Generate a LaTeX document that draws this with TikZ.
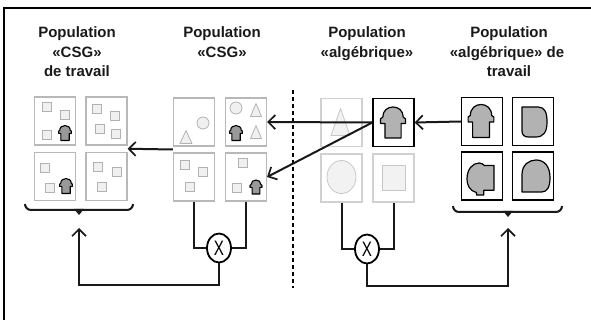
\documentclass[tikz,border=0pt]{standalone}
\usepackage{fontspec}
\usepackage{graphicx}
\setmainfont{Liberation Sans}
\usetikzlibrary{arrows.meta,shapes.geometric,calc}
\newcommand\ShSq[5]{\begin{scope}[shift={(#1,#2)},xscale=#3,yscale=#4]\draw[#5] (-0.5,-0.5) rectangle (0.5,0.5);\end{scope}}
\newcommand\ShTri[5]{\begin{scope}[shift={(#1,#2)},xscale=#3,yscale=#4]\draw[#5,line join=round] (-0.5,0.5) -- (0,-0.5) -- (0.5,0.5) -- cycle;\end{scope}}
\newcommand\ShEll[5]{\begin{scope}[shift={(#1,#2)},xscale=#3,yscale=#4]\draw[#5] (0,0) ellipse[x radius=0.5,y radius=0.5];\end{scope}}
\newcommand\ShShirt[5]{\begin{scope}[shift={(#1,#2)},xscale=#3,yscale=#4]\draw[#5,line join=round] (-0.3,0.5) -- (-0.3,0.03) -- (-0.46,0.03) -- (-0.46,-0.12) -- (-0.38,-0.17) .. controls (-0.38,-0.61) and (0.38,-0.61) .. (0.38,-0.17) -- (0.46,-0.12) -- (0.46,0.03) -- (0.3,0.03) -- (0.3,0.5) -- cycle;\end{scope}}
\newcommand\ShD[5]{\begin{scope}[shift={(#1,#2)},xscale=#3,yscale=#4]\draw[#5,line join=round] (-0.5,-0.5) -- (0.15,-0.5) .. controls (0.42,-0.5) and (0.5,-0.3) .. (0.5,0) .. controls (0.5,0.35) and (0.35,0.5) .. (0.05,0.5) -- (-0.25,0.5) .. controls (-0.42,0.5) and (-0.5,0.42) .. (-0.5,0.3) -- cycle;\end{scope}}
\newcommand\ShBlob[5]{\begin{scope}[shift={(#1,#2)},xscale=#3,yscale=#4]\draw[#5,line join=round] (0.5,-0.42) -- (0.5,0.35) -- (0.12,0.35) -- (0.12,0.5) -- (-0.15,0.5) -- (-0.15,0.42) .. controls (-0.42,0.36) and (-0.5,0.18) .. (-0.5,0) .. controls (-0.5,-0.3) and (-0.3,-0.5) .. (-0.05,-0.5) .. controls (0.05,-0.5) and (0.1,-0.46) .. (0.14,-0.42) -- cycle;\end{scope}}
\newcommand\ShDrop[5]{\begin{scope}[shift={(#1,#2)},xscale=#3,yscale=#4]\draw[#5,line join=round] (-0.5,0.5) -- (-0.5,-0.05) .. controls (-0.5,-0.35) and (-0.25,-0.5) .. (0,-0.5) .. controls (0.3,-0.5) and (0.5,-0.3) .. (0.5,0.05) .. controls (0.5,0.35) and (0.4,0.5) .. (0.2,0.5) -- cycle;\end{scope}}
\begin{document}
\begin{tikzpicture}[x=1pt,y=-1pt,
 lbox/.style={draw=black!28,line width=1.1pt,minimum width=41pt,minimum height=48pt,inner sep=0pt},
 llbox/.style={lbox,draw=black!18},
 dbox/.style={draw=black,line width=1.3pt,minimum width=41pt,minimum height=48pt,inner sep=0pt},
 title/.style={font=\bfseries\fontsize{15}{17}\selectfont,inner sep=0pt,anchor=base,text=black!90},
 conn/.style={line width=2pt,draw=black!90},
 arr/.style={conn,-{Straight Barb[length=7pt,width=14pt,line width=1.7pt]}},
 light/.style={draw=black!30,fill=black!6,line width=0.8pt},
 lighter/.style={draw=black!22,fill=black!5,line width=0.8pt},
 darkshape/.style={draw=black,fill=black!40,line width=1.1pt},
 bigshape/.style={draw=black,fill=black!30,line width=1.2pt},
 xnode/.style={ellipse,draw=black,line width=1.8pt,minimum width=24pt,minimum height=29pt,inner sep=0pt,fill=white,font=\fontsize{19}{19}\selectfont}
]
\useasboundingbox (0,0) rectangle (591,320);
% frame
\draw[line width=1.6pt] (4,320) -- (4,8) -- (591,8);
% titles
\node[title] (t1a) at (77,37.5) {Population};
\node[title] (t1b) at (77,57.5) {«CSG»};
\node[title] (t1c) at (77,77) {de travail};
\node[title] (t2a) at (222,37.5) {Population};
\node[title] (t2b) at (222,57.5) {«CSG»};
\node[title] (t3a) at (367,37.5) {Population};
\node[title] (t3b) at (367,57.5) {«algébrique»};
\node[title] (t4a) at (509,37.5) {Population};
\node[title] (t4b) at (507,57.5) {«algébrique» de};
\node[title] (t4c) at (509,77) {travail};
% boxes
\node[lbox] (g1a) at (55,121) {};
\node[lbox] (g1b) at (106.5,121) {};
\node[lbox] (g1c) at (55,176.5) {};
\node[lbox] (g1d) at (106.5,176.5) {};
\node[lbox] (g2a) at (194,122) {};
\node[lbox] (g2b) at (246,122) {};
\node[lbox] (g2c) at (194,177) {};
\node[lbox] (g2d) at (246,177) {};
\node[llbox] (g3a) at (341.5,122.5) {};
\node[dbox] (g3b) at (393.5,122.5) {};
\node[llbox] (g3c) at (341.5,178) {};
\node[llbox] (g3d) at (393.5,178) {};
\node[dbox] (g4a) at (482,121.5) {};
\node[dbox] (g4b) at (533,121.5) {};
\node[dbox] (g4c) at (482,176) {};
\node[dbox] (g4d) at (533,176) {};
% group 1 contents
\ShSq{47}{107}{9}{9}{light}\ShSq{65}{115}{9}{9}{light}\ShSq{47}{135}{9}{9}{light}
\ShShirt{65}{133}{14}{15}{darkshape}
\ShSq{97}{109}{9}{9}{light}\ShSq{115}{116}{9}{9}{light}\ShSq{100}{129}{9}{9}{light}\ShSq{116}{134}{9}{9}{light}
\ShSq{45}{168}{9}{9}{light}\ShSq{50}{188}{9}{9}{light}
\ShShirt{66}{186}{14}{15}{darkshape}
\ShSq{98}{167}{9}{9}{light}\ShSq{117}{172}{9}{9}{light}\ShSq{102}{187}{9}{9}{light}
% group 2 contents
\ShTri{186}{137}{12}{13}{light}\ShEll{203}{123}{12}{12}{light}
\ShEll{236}{108}{12}{12}{light}\ShTri{256}{110}{11}{13}{light}
\ShShirt{236}{133}{14}{15}{darkshape}\ShTri{256}{132}{11}{13}{light}
\ShSq{185}{165}{9}{9}{light}\ShSq{203}{172}{9}{9}{light}\ShSq{190}{187}{9}{9}{light}
\ShSq{243}{163}{9}{9}{light}\ShSq{237}{188}{9}{9}{light}
\ShShirt{256}{187}{13}{14}{darkshape}
% group 3 contents
\ShTri{340.5}{122}{19}{27}{lighter}
\ShShirt{393}{122.5}{27}{31}{bigshape}
\ShEll{341.5}{177}{29}{33}{lighter}
\ShSq{393.5}{177.5}{23}{25}{lighter}
% group 4 contents
\ShShirt{481}{121}{28}{33}{bigshape}
\ShD{534.5}{122}{25}{30}{bigshape}
\ShBlob{480.5}{179}{27}{32}{bigshape}
\ShDrop{536}{176}{28}{32}{bigshape}
% separator
\draw[line width=1.3pt,dash pattern=on 4pt off 3pt] (293,90) -- (293,288);
% arrows between populations
\draw[arr] (g4a.west) -- (g3b.east);
\draw[arr] (g3b.west) -- (g2b.east);
\draw[arr] (g3b.west) -- (g2d.east);
\draw[arr] ($(g2a.south west)!0.5!(g2c.north west)$) -- ($(g1b.south east)!0.5!(g1d.north east)$);
% crossover nodes
\node[xnode] (x1) at (219,248) {\scalebox{0.8}[1.1]{X}};
\node[xnode] (x2) at (367,249) {\scalebox{0.8}[1.1]{X}};
\draw[conn] (g2c.south) |- (x1.west);
\draw[conn] (g2d.south) |- (x1.east);
\draw[conn] (g3c.south) |- (x2.west);
\draw[conn] (g3d.south) |- (x2.east);
% braces
\draw[conn] (25,204) to[out=-90,in=180] (31,210) -- (127,210) to[out=0,in=-90] (133,204);
\fill[black!90] (74,209) -- (84,209) -- (79,215) -- cycle;
\draw[conn] (453,206) to[out=-90,in=180] (459,212) -- (556,212) to[out=0,in=-90] (562,206);
\fill[black!90] (503,211) -- (513,211) -- (508,217) -- cycle;
\coordinate (b1) at (79,228);
\coordinate (b4) at (508,228);
\coordinate (y1) at (0,285);
\coordinate (y2) at (0,286);
\draw[arr] (x1.south) -- (x1.south |- y1) -| (b1);
\draw[arr] (x2.south) -- (x2.south |- y2) -| (b4);
\end{tikzpicture}
\end{document}
